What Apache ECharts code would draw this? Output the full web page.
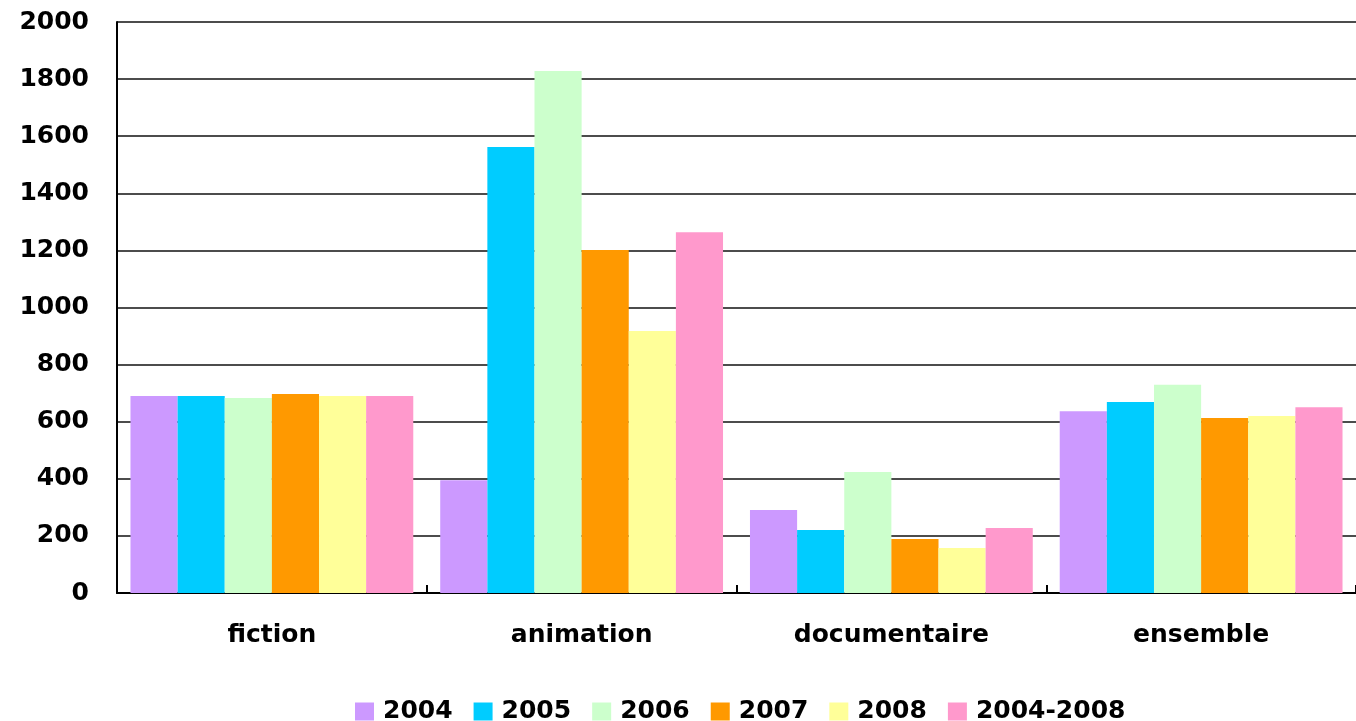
<!DOCTYPE html>
<html>
<head>
<meta charset="utf-8">
<script src="https://cdn.jsdelivr.net/npm/echarts@6/dist/echarts.min.js"></script>
<style>html,body{margin:0;padding:0;background:#fff;}#c{width:1356px;height:721px;}</style>
</head>
<body>
<div id="c"></div>
<script>
const categories = ['fiction', 'animation', 'documentaire', 'ensemble'];
const seriesNames = ['2004', '2005', '2006', '2007', '2008', '2004-2008'];
const v2004 = [690, 395, 291, 637];
const v2005 = [690, 1562, 221, 669];
const v2006 = [683, 1828, 424, 729];
const v2007 = [697, 1201, 189, 613];
const v2008 = [690, 918, 158, 620];
const v2004_2008 = [690, 1264, 228, 651];
const yTicks = [0, 200, 400, 600, 800, 1000, 1200, 1400, 1600, 1800, 2000];

const colors = ['#CC99FF', '#00CCFF', '#CCFFCC', '#FF9900', '#FFFF99', '#FF99CC'];
const allValues = [v2004, v2005, v2006, v2007, v2008, v2004_2008];
const font = "'DejaVu Sans', 'Liberation Sans', Arial, sans-serif";

const chart = echarts.init(document.getElementById('c'));
chart.setOption({
  animation: false,
  color: colors,
  grid: { left: 117, top: 22, width: 1244, height: 571, containLabel: false },
  legend: {
    data: seriesNames,
    left: 350,
    top: 694,
    itemWidth: 19,
    itemHeight: 18,
    itemGap: 21,
    icon: 'rect',
    textStyle: { fontFamily: font, fontWeight: 'bold', fontSize: 25, color: '#000', padding: [0, 0, 0, 4] }
  },
  xAxis: {
    type: 'category',
    data: categories,
    axisLine: { lineStyle: { color: '#000', width: 2 } },
    axisTick: { show: true, inside: true, length: 8, lineStyle: { color: '#000', width: 2 } },
    axisLabel: { fontFamily: font, fontWeight: 'bold', fontSize: 25, color: '#000', margin: 30 }
  },
  yAxis: {
    type: 'value',
    min: 0,
    max: 2000,
    interval: 200,
    axisLine: { show: true, lineStyle: { color: '#000', width: 2 } },
    axisTick: { show: false },
    splitLine: { show: true, lineStyle: { color: '#111', width: 1.5 } },
    axisLabel: {
      fontFamily: font, fontWeight: 'bold', fontSize: 25, color: '#000', margin: 28,
      formatter: function (v) { return yTicks.indexOf(v) >= 0 ? String(v) : ''; }
    }
  },
  series: seriesNames.map((n, i) => ({
    name: n,
    type: 'bar',
    data: allValues[i],
    barGap: '0%',
    barCategoryGap: '8.7%',
    itemStyle: { color: colors[i] }
  }))
});
</script>
</body>
</html>
